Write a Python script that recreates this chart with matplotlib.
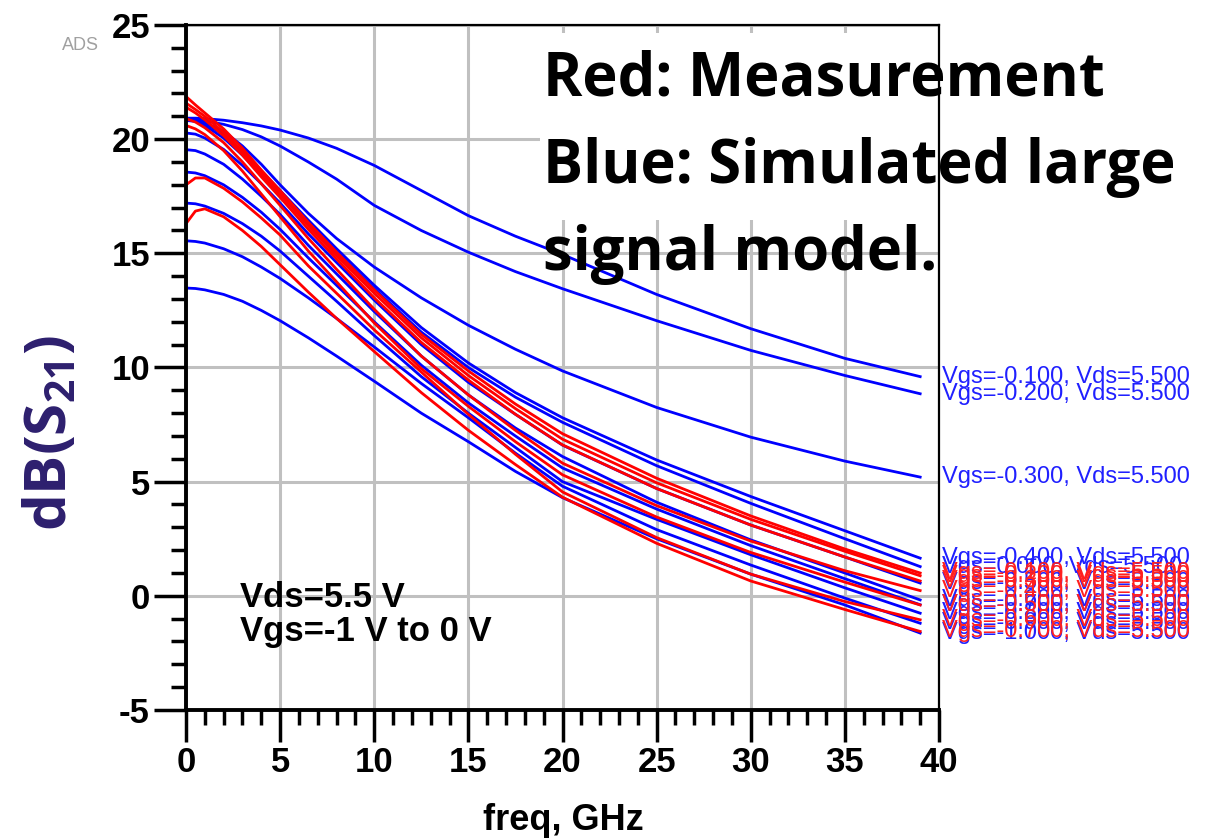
import matplotlib
matplotlib.use('Agg')
import matplotlib.pyplot as plt
from matplotlib.patches import Rectangle
import numpy as np

plt.rcParams['mathtext.fontset'] = 'custom'
plt.rcParams['mathtext.rm'] = 'Open Sans:bold'
plt.rcParams['mathtext.it'] = 'Open Sans:bold'
plt.rcParams['mathtext.bf'] = 'Open Sans:bold'

freq = [0, 0.5, 1, 2, 3, 4, 5, 6.5, 8, 10, 12.5, 15, 17.5, 20, 25, 30, 35, 39]

# simulated large signal model, dB(S21)
sim_vgs = ['-0.100', '-0.200', '-0.300', '-0.400', '0.000', '-0.500',
           '-0.600', '-0.700', '-0.800', '-0.900', '-1.000']
sim_s21 = [
    [20.92, 20.92, 20.9, 20.83, 20.72, 20.58, 20.4, 20.05, 19.6, 18.85, 17.75, 16.65, 15.75, 14.95, 13.2, 11.7, 10.4, 9.6],
    [20.85, 20.84, 20.8, 20.65, 20.42, 20.1, 19.7, 19.0, 18.25, 17.1, 16.0, 15.05, 14.2, 13.45, 12.05, 10.75, 9.65, 8.85],
    [20.85, 20.82, 20.72, 20.35, 19.7, 18.9, 18.0, 16.75, 15.65, 14.4, 13.05, 11.85, 10.8, 9.85, 8.25, 6.95, 5.9, 5.2],
    [20.9, 20.85, 20.7, 20.2, 19.45, 18.6, 17.75, 16.45, 15.2, 13.6, 11.75, 10.2, 8.9, 7.8, 5.95, 4.35, 2.85, 1.65],
    [20.82, 20.78, 20.6, 20.05, 19.3, 18.45, 17.6, 16.3, 15.05, 13.45, 11.55, 10.0, 8.7, 7.6, 5.7, 4.05, 2.5, 1.28],
    [20.27, 20.22, 20.05, 19.55, 18.85, 18.05, 17.2, 15.85, 14.6, 12.95, 11.0, 9.35, 7.95, 6.6, 4.7, 3.1, 1.7, 0.56],
    [19.54, 19.5, 19.35, 18.9, 18.25, 17.5, 16.7, 15.35, 14.1, 12.45, 10.5, 8.8, 7.35, 6.1, 4.1, 2.45, 1.0, -0.18],
    [18.56, 18.52, 18.4, 18.0, 17.45, 16.8, 16.05, 14.8, 13.6, 12.0, 10.1, 8.45, 7.0, 5.6, 3.8, 2.2, 0.75, -0.39],
    [17.2, 17.17, 17.07, 16.75, 16.3, 15.75, 15.1, 14.0, 12.9, 11.4, 9.6, 8.0, 6.5, 5.0, 3.35, 1.8, 0.35, -0.76],
    [15.55, 15.52, 15.45, 15.2, 14.85, 14.4, 13.9, 13.05, 12.15, 10.9, 9.3, 7.8, 6.25, 4.8, 2.9, 1.35, -0.1, -1.2],
    [13.48, 13.46, 13.4, 13.2, 12.9, 12.5, 12.05, 11.3, 10.5, 9.4, 8.0, 6.75, 5.45, 4.3, 2.5, 0.95, -0.4, -1.63],
]

# measurement, dB(S21)
meas_vgs = ['-0.100', '-0.200', '-0.300', '-0.400', '-0.500', '-0.600', '-0.700']
meas_s21 = [
    [21.87, 21.5, 21.15, 20.45, 19.6, 18.65, 17.75, 16.35, 15.05, 13.4, 11.45, 9.85, 8.4, 7.1, 5.15, 3.5, 2.05, 1.0],
    [21.58, 21.3, 21.0, 20.3, 19.45, 18.5, 17.6, 16.2, 14.9, 13.25, 11.3, 9.65, 8.2, 6.86, 4.95, 3.35, 1.95, 0.88],
    [21.4, 21.15, 20.85, 20.15, 19.3, 18.35, 17.45, 16.05, 14.75, 13.05, 11.1, 9.45, 7.95, 6.61, 4.7, 3.1, 1.7, 0.65],
    [20.9, 20.75, 20.5, 19.85, 19.0, 18.05, 17.1, 15.65, 14.3, 12.55, 10.5, 8.8, 7.25, 5.81, 3.95, 2.4, 1.1, 0.23],
    [20.6, 20.45, 20.2, 19.5, 18.6, 17.6, 16.6, 15.1, 13.75, 11.95, 9.95, 8.3, 6.75, 5.3, 3.45, 1.9, 0.6, -0.4],
    [18.0, 18.3, 18.3, 17.85, 17.25, 16.55, 15.8, 14.45, 13.25, 11.65, 9.8, 7.95, 6.2, 4.55, 2.55, 0.95, -0.25, -1.05],
    [16.3, 16.85, 16.95, 16.6, 16.0, 15.3, 14.5, 13.3, 12.15, 10.7, 8.9, 7.25, 5.75, 4.32, 2.3, 0.65, -0.6, -1.56],
]

W, H = 1206, 838
fig = plt.figure(figsize=(W / 100, H / 100), dpi=100)
ax = fig.add_axes([186 / W, (H - 710) / H, (939 - 186) / W, (710 - 25) / H])

tick_font = dict(family='Liberation Sans', weight='bold', size=25)

for vals, vgs in zip(sim_s21, sim_vgs):
    ax.plot(freq, vals, color='#0000ff', linewidth=2.0, zorder=3)
    ax.text(40.15, vals[-1], 'Vgs={}, Vds=5.500'.format(vgs), color='#2020ff',
            fontsize=17, family='Liberation Sans', va='center', ha='left', clip_on=False)
for vals, vgs in zip(meas_s21, meas_vgs):
    ax.plot(freq, vals, color='#ff0000', linewidth=2.0, zorder=3)
    ax.text(40.15, vals[-1], 'Vgs={}, Vds=5.500'.format(vgs), color='#ff2020',
            fontsize=17, family='Liberation Sans', va='center', ha='left', clip_on=False)

ax.set_xlim(0, 40)
ax.set_ylim(-5, 25)
ax.set_xticks(np.arange(0, 41, 5))
ax.set_xticks(np.arange(0, 41, 1), minor=True)
ax.set_yticks(np.arange(-5, 26, 5))
ax.set_yticks(np.arange(-5, 26, 1), minor=True)
ax.set_xticklabels([str(v) for v in range(0, 41, 5)], fontdict=tick_font)
ax.set_yticklabels([str(v) for v in range(-5, 26, 5)], fontdict=tick_font)
ax.tick_params(which='major', direction='out', length=23, width=2.5, pad=3)
ax.tick_params(which='minor', direction='out', length=11, width=2.5)
ax.tick_params(top=False, right=False, which='both')
ax.grid(which='major', color='#c0c0c0', linewidth=2.2)
ax.set_axisbelow(True)
for side in ['left', 'bottom']:
    ax.spines[side].set_linewidth(2.8)
for side in ['top', 'right']:
    ax.spines[side].set_linewidth(1.6)
for sp in ax.spines.values():
    sp.set_zorder(5)

# white box behind the caption hides the grid
ax.add_patch(Rectangle((540 / W, 1 - 220 / H), (W - 540) / W, (220 - 33) / H,
                       transform=fig.transFigure, facecolor='white', edgecolor='none',
                       zorder=2, clip_on=False))

cap_font = dict(family='Open Sans', weight='bold', size=43, color='black')
fig.text(543 / W, 1 - 95 / H, 'Red: Measurement', va='baseline', ha='left', zorder=6, **cap_font)
fig.text(543 / W, 1 - 183 / H, 'Blue: Simulated large', va='baseline', ha='left', zorder=6, **cap_font)
fig.text(543 / W, 1 - 270 / H, 'signal model.', va='baseline', ha='left', zorder=6, **cap_font)

ax.text(2.87, -0.48, 'Vds=5.5 V', family='Liberation Sans', weight='bold', size=25, va='baseline')
ax.text(2.87, -1.97, 'Vgs=-1 V to 0 V', family='Liberation Sans', weight='bold', size=25, va='baseline')

fig.text(62 / W, 1 - 50 / H, 'ADS', color='#a0a0a0', fontsize=13, family='Liberation Sans', va='baseline')

fig.text(563 / W, 1 - 830 / H, 'freq, GHz', ha='center', va='baseline', family='Liberation Sans',
         weight='bold', size=26)
fig.text(52 / W, 1 - 433 / H, 'dB(S$_{21}$)', rotation=90, ha='center', va='center',
         family='Open Sans', weight='bold', size=42, color='#2d1f6e')

fig.savefig('out.png', dpi=100)
